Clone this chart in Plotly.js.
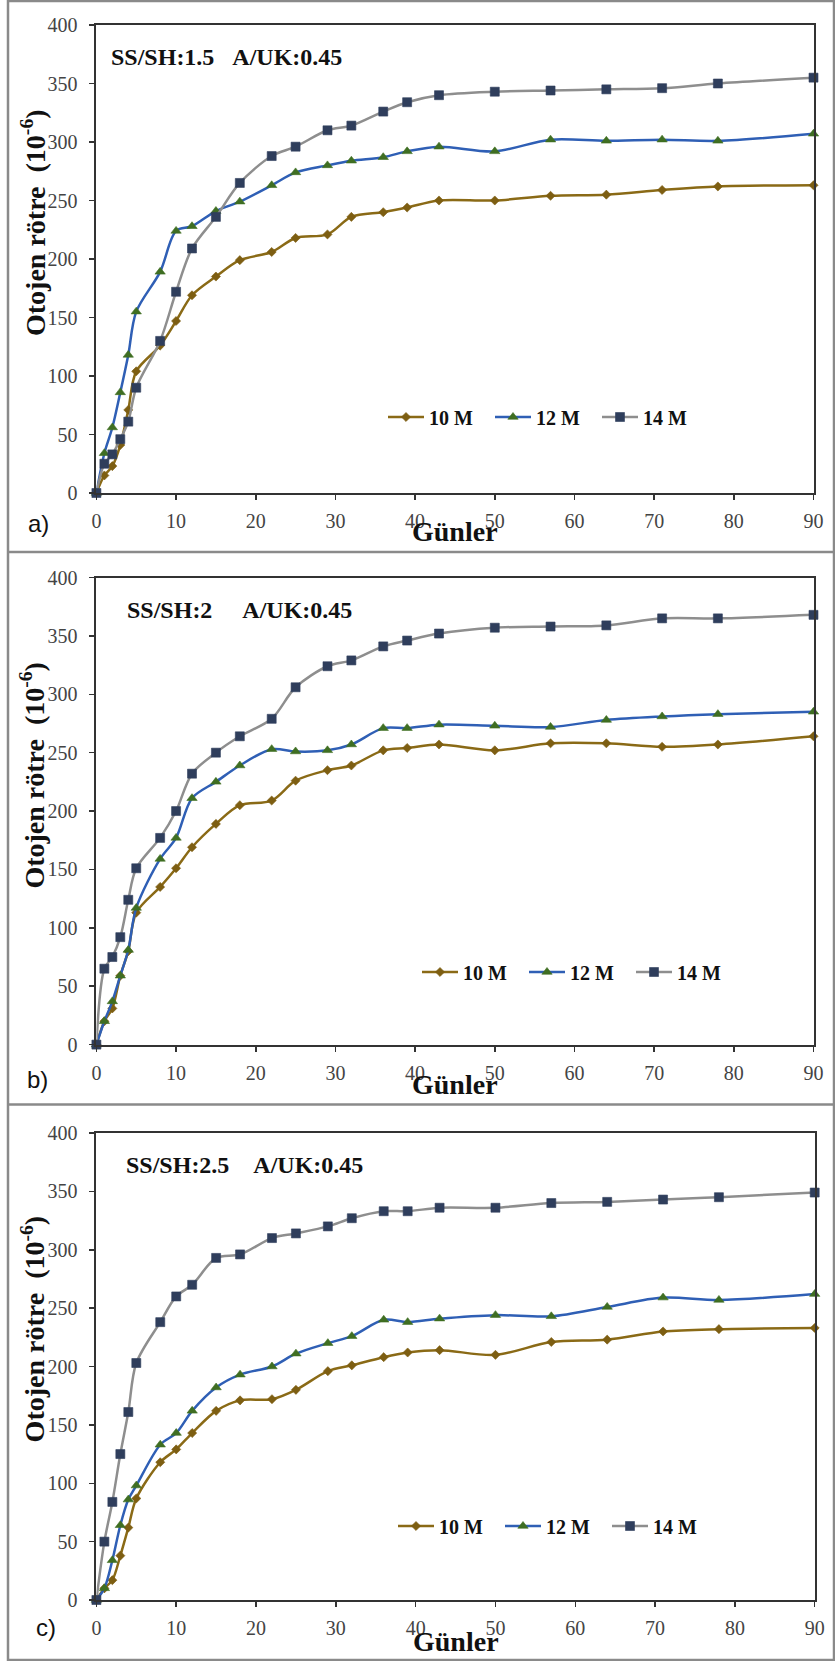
<!DOCTYPE html>
<html>
<head>
<meta charset="utf-8">
<script src="https://cdn.plot.ly/plotly-3.0.1.min.js"></script>
<style>html,body{margin:0;padding:0;background:#fff;}#chart{width:835px;height:1661px;}</style>
</head>
<body>
<div id="chart"></div>
<script>
// ---- data ----
const days = [0,1,2,3,4,5,8,10,12,15,18,22,25,29,32,36,39,43,50,57,64,71,78,90];
const seriesNames = ['10 M', '12 M', '14 M'];

// panel a) SS/SH:1.5
const a10M = [0,15,23,41,71,104,126,147,169,185,199,206,218,221,236,240,244,250,250,254,255,259,262,263];
const a12M = [0,34,56,86,118,155,189,224,228,241,249,263,274,280,284,287,292,296,292,302,301,302,301,307];
const a14M = [0,25,33,46,61,90,130,172,209,236,265,288,296,310,314,326,334,340,343,344,345,346,350,355];

// panel b) SS/SH:2
const b10M = [0,20,31,59,80,113,135,151,169,189,205,209,226,235,239,252,254,257,252,258,258,255,257,264];
const b12M = [0,20,37,59,81,117,159,177,211,225,239,253,251,252,257,271,271,274,273,272,278,281,283,285];
const b14M = [0,65,75,92,124,151,177,200,232,250,264,279,306,324,329,341,346,352,357,358,359,365,365,368];

// panel c) SS/SH:2.5
const c10M = [0,10,17,38,62,87,118,129,143,162,171,172,180,196,201,208,212,214,210,221,223,230,232,233];
const c12M = [0,10,34,64,86,98,133,143,162,182,193,200,211,220,226,240,238,241,244,243,251,259,257,262];
const c14M = [0,50,84,125,161,203,238,260,270,293,296,310,314,320,327,333,333,336,336,340,341,343,345,349];

const panelLabels = ['a)', 'b)', 'c)'];
const panelNotes = ['SS/SH:1.5\u00a0\u00a0\u00a0A/UK:0.45', 'SS/SH:2\u00a0\u00a0\u00a0\u00a0\u00a0A/UK:0.45', 'SS/SH:2.5\u00a0\u00a0\u00a0\u00a0A/UK:0.45'];
const yTitleText = 'Otojen rötre\u00a0 (10<sup>-6</sup>)';
const xTitleText = 'Günler';
const yTickVals = [0,50,100,150,200,250,300,350,400];
const xTickVals = [0,10,20,30,40,50,60,70,80,90];

// ---- styling / layout ----
const W = 835, H = 1661;
const px = v => v / W;
const py = v => 1 - v / H;
const panels = [
  {data: [a10M, a12M, a14M], top: 25, bottom: 493, left: 96.4, right: 813.5,
   label: {x: 38, y: 523}, note: {x: 109, y: 57}, ytitle: 223, xtitle: 532, legend: {x: 383, y: 417}},
  {data: [b10M, b12M, b14M], top: 577.5, bottom: 1044.6, left: 96.4, right: 813.5,
   label: {x: 37, y: 1079}, note: {x: 125, y: 609.6}, ytitle: 775.6, xtitle: 1084.6, legend: {x: 417, y: 972}},
  {data: [c10M, c12M, c14M], top: 1133, bottom: 1600, left: 96.4, right: 814.7,
   label: {x: 46, y: 1627}, note: {x: 123.5, y: 1164.6}, ytitle: 1329.4, xtitle: 1641.7, legend: {x: 393, y: 1526}}
];

const styles = [
  {line: '#8a6a16', marker: {symbol: 'diamond', size: 7, color: '#7d5e12'}},
  {line: '#2f5fb5', marker: {symbol: 'triangle-up', size: 9, color: '#3f6e22'}},
  {line: '#8e8e8e', marker: {symbol: 'square', size: 9, color: '#2f3e5c'}}
];

const serif = 'Liberation Serif';
const traces = [];
const layout = {
  width: W, height: H,
  margin: {l: 0, r: 0, t: 0, b: 0},
  paper_bgcolor: '#ffffff', plot_bgcolor: '#ffffff',
  font: {family: serif},
  showlegend: true,
  annotations: [], shapes: []
};

panels.forEach((p, i) => {
  const n = i + 1;
  const xa = 'xaxis' + (n === 1 ? '' : n), ya = 'yaxis' + (n === 1 ? '' : n);
  const xr = 'x' + (n === 1 ? '' : n), yr = 'y' + (n === 1 ? '' : n);
  const lg = 'legend' + (n === 1 ? '' : n);
  p.data.forEach((vals, s) => {
    traces.push({
      type: 'scatter', mode: 'lines+markers',
      x: days, y: vals, name: seriesNames[s],
      xaxis: xr, yaxis: yr, legend: lg,
      line: {color: styles[s].line, width: 2.5, shape: 'spline', smoothing: 0.9},
      marker: {symbol: styles[s].marker.symbol, size: styles[s].marker.size, color: styles[s].marker.color,
               line: {width: 0.6, color: styles[s].marker.color}},
      cliponaxis: false
    });
  });
  layout[xa] = {
    domain: [px(p.left), px(p.right)], anchor: yr, range: [0, 90],
    tickvals: xTickVals, ticks: 'outside', ticklen: 5, tickwidth: 1.5, tickcolor: '#333',
    showline: true, linecolor: '#333', linewidth: 2, mirror: true,
    showgrid: false, zeroline: false, fixedrange: true,
    tickfont: {family: serif, size: 20, color: '#444'}, ticklabelstandoff: 4
  };
  layout[ya] = {
    domain: [py(p.bottom), py(p.top)], anchor: xr, range: [0, 400],
    tickvals: yTickVals, ticks: 'outside', ticklen: 5, tickwidth: 1.5, tickcolor: '#333',
    showline: true, linecolor: '#333', linewidth: 2, mirror: true,
    showgrid: false, zeroline: false, fixedrange: true,
    tickfont: {family: serif, size: 20, color: '#444'}, ticklabelstandoff: 8
  };
  layout[lg] = {
    orientation: 'h', x: px(p.legend.x), y: py(p.legend.y), xanchor: 'left', yanchor: 'middle',
    xref: 'paper', yref: 'paper', bgcolor: 'rgba(0,0,0,0)',
    font: {family: serif, size: 20, color: '#111', weight: 'bold'},
    entrywidth: 56, itemwidth: 36, tracegroupgap: 0
  };
  layout.annotations.push(
    {text: panelLabels[i], x: px(p.label.x), y: py(p.label.y), xref: 'paper', yref: 'paper',
     xanchor: 'center', yanchor: 'middle', showarrow: false,
     font: {family: 'Liberation Sans', size: 24, color: '#111'}},
    {text: '<b>' + panelNotes[i] + '</b>', x: px(p.note.x), y: py(p.note.y), xref: 'paper', yref: 'paper',
     xanchor: 'left', yanchor: 'middle', showarrow: false,
     font: {family: serif, size: 24, color: '#111'}},
    {text: '<b>' + yTitleText + '</b>', x: px(33), y: py(p.ytitle), xref: 'paper', yref: 'paper',
     xanchor: 'center', yanchor: 'middle', showarrow: false, textangle: -90,
     font: {family: serif, size: 28, color: '#111'}},
    {text: '<b>' + xTitleText + '</b>', x: px((p.left + p.right) / 2), y: py(p.xtitle), xref: 'paper', yref: 'paper',
     xanchor: 'center', yanchor: 'middle', showarrow: false,
     font: {family: serif, size: 28, color: '#111'}}
  );
});

// panel frames
const frameColor = '#8a8a8a';
layout.shapes.push(
  {type: 'rect', xref: 'paper', yref: 'paper', x0: px(8), x1: px(834), y0: py(1660), y1: py(1), line: {color: frameColor, width: 2.5}},
  {type: 'line', xref: 'paper', yref: 'paper', x0: px(8), x1: px(834), y0: py(552), y1: py(552), line: {color: frameColor, width: 2.5}},
  {type: 'line', xref: 'paper', yref: 'paper', x0: px(8), x1: px(834), y0: py(1104.5), y1: py(1104.5), line: {color: frameColor, width: 2.5}}
);

Plotly.newPlot('chart', traces, layout, {displayModeBar: false, staticPlot: true});
</script>
</body>
</html>
